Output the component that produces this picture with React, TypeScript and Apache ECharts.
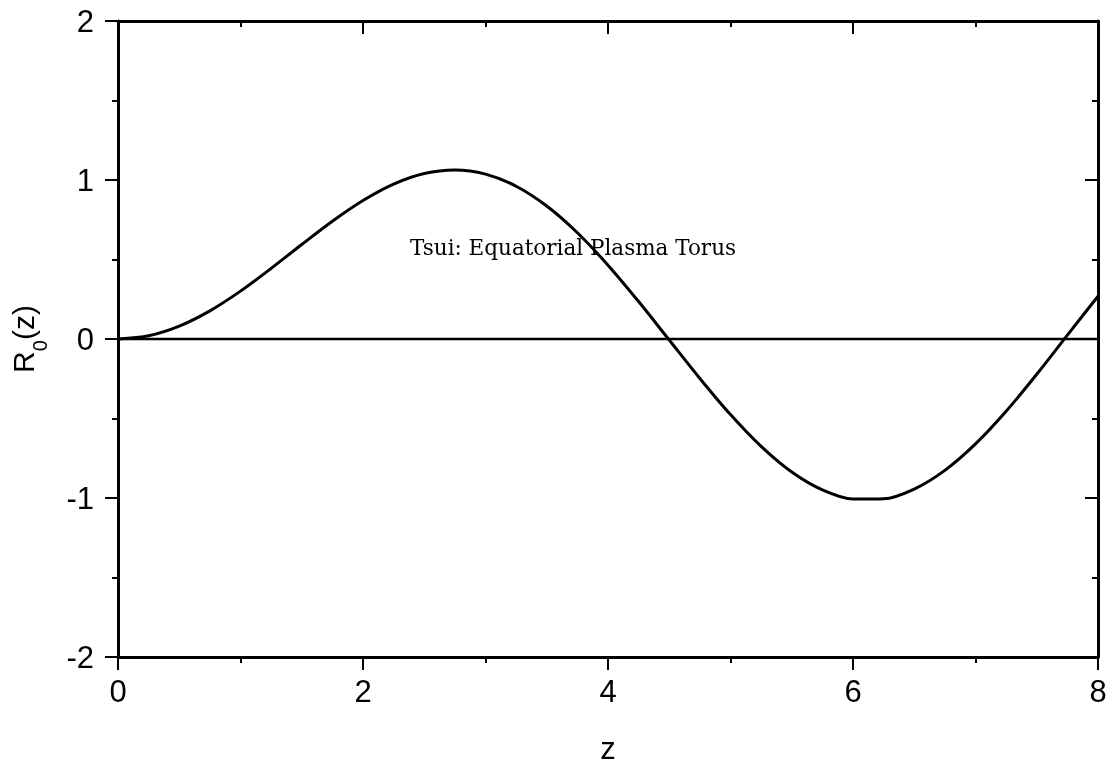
import React, { useEffect, useRef } from "react";
import * as echarts from "echarts";

const zValues = [0, 0.25, 0.5, 0.75, 1, 1.25, 1.5, 1.75, 2, 2.25, 2.5, 2.75, 3, 3.25, 3.5, 3.75, 4, 4.25, 4.5, 4.75, 5, 5.25, 5.5, 5.75, 6, 6.25, 6.5, 6.75, 7, 7.25, 7.5, 7.75, 8];
const rValues = [0, 0.0207, 0.0813, 0.1772, 0.3012, 0.4439, 0.5943, 0.7405, 0.8708, 0.974, 1.0405, 1.0631, 1.037, 0.9608, 0.8362, 0.6681, 0.4644, 0.2354, -0.0064, -0.248, -0.4754, -0.6757, -0.837, -0.9494, -1.0067, -1.0048, -0.9435, -0.8263, -0.66, -0.4544, -0.2216, 0.0245, 0.2692];
const zeroLineZ = [0, 8];
const zeroLineR = [0, 0];
const annotation = "Tsui: Equatorial Plasma Torus";

export default function App() {
  const ref = useRef<HTMLDivElement>(null);
  useEffect(() => {
    if (!ref.current) return;
    const chart = echarts.init(ref.current, null, { renderer: "svg" });
    const font = "Liberation Sans, Arial, sans-serif";
    const axisLine = { show: true, onZero: false, lineStyle: { color: "#000", width: 3 } };
    const xBase = { type: "value", min: 0, max: 8, interval: 2, splitLine: { show: false } };
    const yBase = { type: "value", min: -2, max: 2, interval: 1, splitLine: { show: false } };
    const tickStyle = { width: 2, color: "#000" };
    chart.setOption({
      animation: false,
      grid: { left: 118, right: 18, top: 21, bottom: 118, containLabel: false, outerBoundsMode: "none" },
      xAxis: [
        {
          ...xBase,
          position: "bottom",
          axisLine,
          axisTick: { show: true, inside: false, length: 13, lineStyle: tickStyle },
          minorTick: { show: true, splitNumber: 2, length: 6, lineStyle: tickStyle },
          axisLabel: { color: "#000", fontSize: 31, fontFamily: font, margin: 19 },
          name: "z",
          nameLocation: "middle",
          nameGap: 76,
          nameTextStyle: { color: "#000", fontSize: 31, fontFamily: font },
        },
        {
          ...xBase,
          position: "top",
          axisLine,
          axisTick: { show: true, inside: true, length: 13, lineStyle: tickStyle },
          minorTick: { show: true, splitNumber: 2, length: 6, lineStyle: tickStyle },
          axisLabel: { show: false },
        },
      ],
      yAxis: [
        {
          ...yBase,
          position: "left",
          axisLine,
          axisTick: { show: true, inside: false, length: 13, lineStyle: tickStyle },
          minorTick: { show: true, splitNumber: 2, length: 6, lineStyle: tickStyle },
          axisLabel: { color: "#000", fontSize: 31, fontFamily: font, margin: 24 },
          name: "{main|R}{sub|0}{main|(z)}",
          nameLocation: "middle",
          nameGap: 76,
          nameRotate: 90,
          nameTextStyle: {
            color: "#000",
            fontSize: 30,
            fontFamily: font,
            rich: {
              main: { fontSize: 30, fontFamily: font, color: "#000", lineHeight: 34, verticalAlign: "top" },
              sub: { fontSize: 20, fontFamily: font, color: "#000", lineHeight: 20, verticalAlign: "top", padding: [22, 0, 0, 0] },
            },
          },
        },
        {
          ...yBase,
          position: "right",
          axisLine,
          axisTick: { show: true, inside: true, length: 13, lineStyle: tickStyle },
          minorTick: { show: true, splitNumber: 2, length: 6, lineStyle: tickStyle },
          axisLabel: { show: false },
        },
      ],
      series: [
        {
          type: "line",
          data: zeroLineZ.map((z, i) => [z, zeroLineR[i]]),
          showSymbol: false,
          lineStyle: { color: "#000", width: 2.5 },
          silent: true,
        },
        {
          type: "line",
          data: zValues.map((z, i) => [z, rValues[i]]),
          smooth: 0.3,
          showSymbol: false,
          lineStyle: { color: "#000", width: 3 },
        },
      ],
      graphic: [
        {
          type: "text",
          left: 410,
          top: 236,
          style: { text: annotation, fill: "#000", font: "21.5px 'DejaVu Serif', serif" },
        },
      ],
    });
    return () => chart.dispose();
  }, []);
  return <div ref={ref} style={{ position: "fixed", left: 0, top: 0, width: 1116, height: 775 }} />;
}
